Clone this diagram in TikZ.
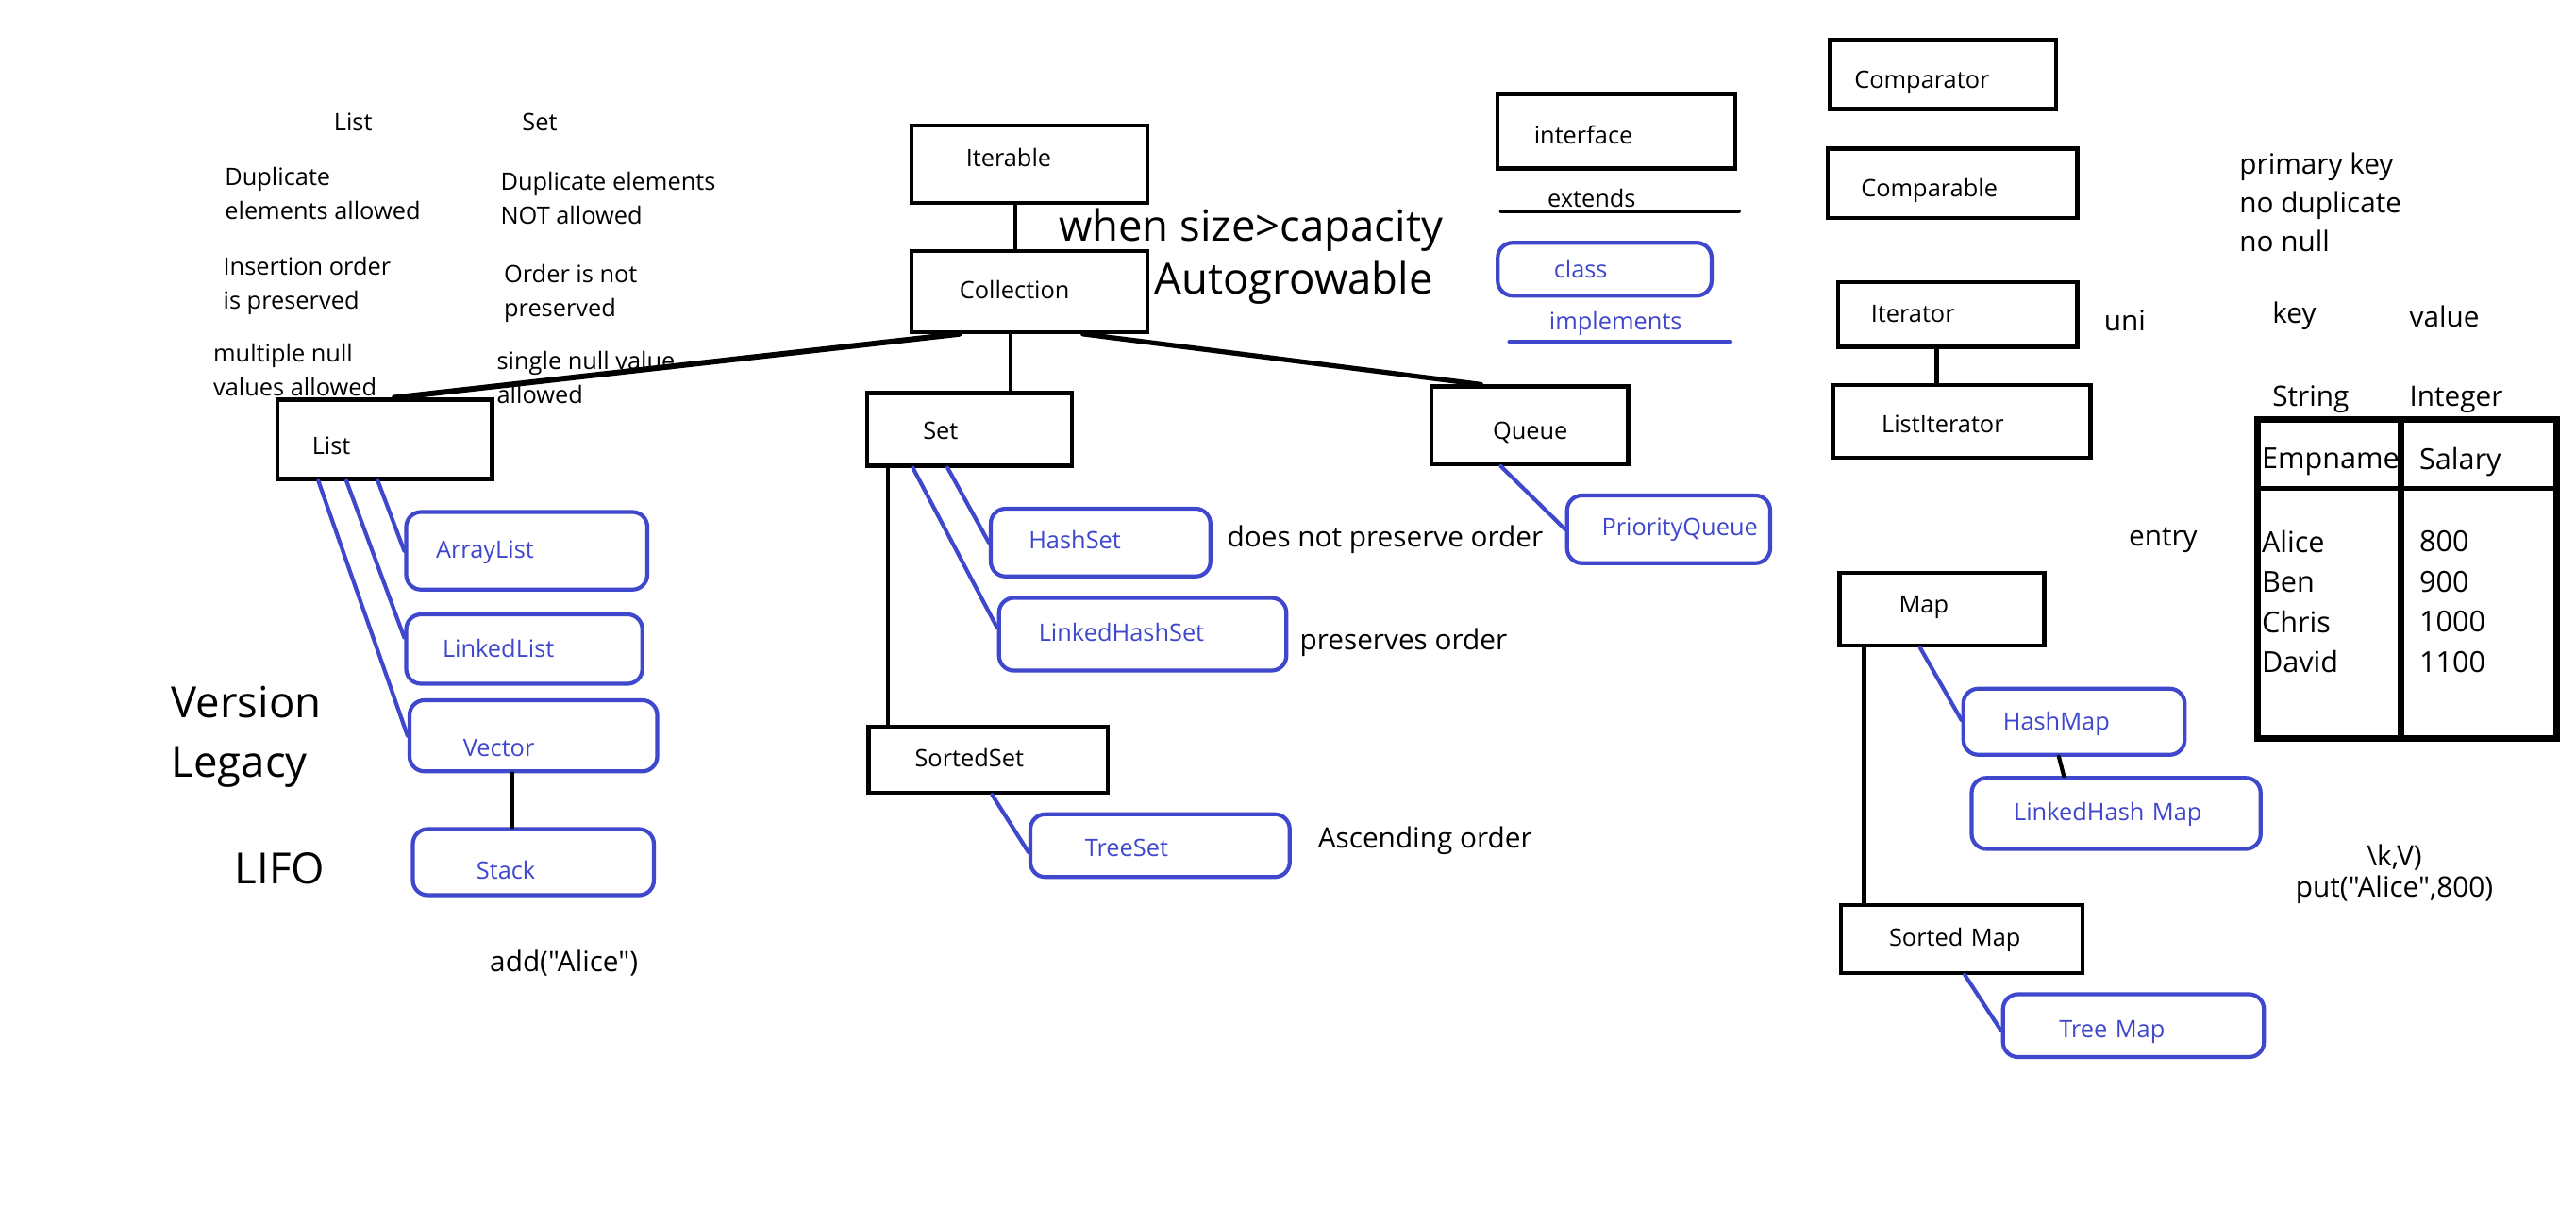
\documentclass[tikz,border=0pt]{standalone}
\usepackage{fontspec}
\setmainfont{Open Sans}
\newfontfamily\osans{Open Sans}
\definecolor{pblue}{RGB}{63,72,204}
\newcommand\fsz[2]{\osans\fontsize{#1}{#2}\selectfont}
% box macro: style, name, x1, y1, x2, y2, text x, text y, text
\newcommand\bx[9]{%
  \pgfmathsetmacro\bxw{#5-#3}%
  \pgfmathsetmacro\bxh{#6-#4}%
  \pgfmathsetmacro\bxo{#7-#3}%
  \pgfmathsetmacro\bxd{#8-(#4+#6)/2}%
  \pgfmathsetmacro\bxcx{(#3+#5)/2}%
  \pgfmathsetmacro\bxcy{(#4+#6)/2}%
  \node[#1, text width=\bxw pt, minimum height=\bxh pt] (#2) at (\bxcx,\bxcy)
    {\hspace*{\bxo pt}\raisebox{-\bxd pt}{#9}};}
\tikzset{
  ibox/.style={draw, line width=2.4pt, inner xsep=0pt, inner ysep=0pt, align=left,
    text height=11pt, text depth=3pt, font=\fsz{14.5}{17}},
  cbox/.style={ibox, draw=pblue, text=pblue, rounded corners=9pt},
  ext/.style={line width=2.4pt, line cap=round},
  impl/.style={draw=pblue, line width=2.4pt, line cap=round},
  s/.style={anchor=west, inner sep=0pt, font=\fsz{14.5}{20.5}, align=left},
  m/.style={anchor=west, inner sep=0pt, font=\fsz{17}{23.5}, align=left},
  big/.style={anchor=west, inner sep=0pt, font=\fsz{26}{36}, align=left},
  tb/.style={anchor=west, inner sep=0pt, font=\fsz{17.5}{24.2}, align=left},
}
\begin{document}
\begin{tikzpicture}[x=1pt, y=-1pt]
\useasboundingbox[fill=white] (0,0) rectangle (1560,731);

% ---- top-left notes
\node[s] (hl) at (202,74) {List};
\node[s] (hs) at (316,74) {Set};
\node[s] (n1) at (136,117) {Duplicate\\elements allowed};
\node[s] (n2) at (303,120) {Duplicate elements\\NOT allowed};
\node[s] (n3) at (135,173) {Insertion order\\is preserved};
\node[s] (n4) at (305,177.5) {Order is not\\preserved};
\node[s] (n5) at (129,224) {multiple null\\values allowed};
\node[s] (n6) at (300.7,228.5) {single null value\\allowed};

% ---- interface boxes
\bx{ibox}{iter}{552}{76}{695}{123}{585}{97}{Iterable}
\bx{ibox}{coll}{552}{152}{695}{201}{581}{177}{Collection}
\bx{ibox}{list}{168}{242}{298}{290}{189}{271}{List}
\bx{ibox}{set}{525}{238}{649}{282}{559}{262}{Set}
\bx{ibox}{queue}{867}{234}{986}{281}{904}{262}{Queue}
\bx{ibox}{sset}{526}{440}{671}{480}{554}{460}{SortedSet}
\bx{ibox}{iface}{907}{57}{1051}{102}{929}{83}{interface}
\bx{ibox}{cmptor}{1108}{24}{1245}{66}{1123}{49.5}{Comparator}
\bx{ibox}{cmpble}{1107}{90}{1258}{132}{1127}{115}{Comparable}
\bx{ibox}{itor}{1113}{171}{1258}{210}{1133}{191}{Iterator}
\bx{ibox}{litor}{1110}{233}{1266}{277}{1139.5}{258}{ListIterator}
\bx{ibox}{map}{1114}{347}{1238}{391}{1150}{367}{Map}
\bx{ibox}{smap}{1115}{548}{1261}{589}{1144}{569}{Sorted Map}

% ---- class boxes
\bx{cbox}{arr}{246}{310}{392}{357}{264}{334}{ArrayList}
\bx{cbox}{llist}{246}{372}{389}{414}{268}{394}{LinkedList}
\bx{cbox}{vec}{248}{424}{398}{467}{280.5}{454}{Vector}
\bx{cbox}{stack}{250}{502}{396}{542}{288.5}{528}{Stack}
\bx{cbox}{hset}{600}{308}{733}{349}{623}{328}{HashSet}
\bx{cbox}{lhset}{605}{362}{779}{406}{629}{384.5}{LinkedHashSet}
\bx{cbox}{tset}{624}{493}{781}{531}{657}{514.7}{TreeSet}
\bx{cbox}{pq}{949}{300}{1072}{341}{970}{320}{PriorityQueue}
\bx{cbox}{cls}{907}{147}{1036.5}{179}{941}{164}{class}
\bx{cbox}{hmap}{1189}{417}{1323}{457}{1213}{438}{HashMap}
\bx{cbox}{lhmap}{1194}{471}{1369}{514}{1219.5}{493}{LinkedHash Map}
\bx{cbox}{tmap}{1213}{602}{1371}{640}{1247}{624}{Tree Map}

% ---- extends connectors (black)
\draw[ext] ([xshift=64pt]iter.south west) -- ([xshift=64pt]coll.north west);
\draw[ext, line width=3.4pt] ([xshift=30pt]coll.south west) -- ([xshift=72pt]list.north west);
\draw[ext] ([xshift=61pt]coll.south west) -- ([xshift=88pt]set.north west);
\draw[ext, line width=3pt] ([xshift=105pt]coll.south west) -- ([xshift=31pt]queue.north west);
\draw[ext] ([xshift=14pt]set.south west) -- ([xshift=13pt]sset.north west);
\draw[ext] ([xshift=63.5pt]vec.south west) -- ([xshift=61.5pt]stack.north west);
\draw[ext] ([xshift=61pt]itor.south west) -- ([xshift=64pt]litor.north west);
\draw[ext] ([xshift=16pt]map.south west) -- ([xshift=15pt]smap.north west);
\draw[ext] ([xshift=59pt]hmap.south west) -- ([xshift=57pt]lhmap.north west);

% ---- implements connectors (blue)
\draw[impl] ([xshift=62pt]list.south west) -- (arr.west);
\draw[impl] ([xshift=43pt]list.south west) -- ([yshift=7pt]llist.west);
\draw[impl] ([xshift=26pt]list.south west) -- (vec.west);
\draw[impl] ([xshift=50pt]set.south west) -- (hset.west);
\draw[impl] ([xshift=29pt]set.south west) -- ([yshift=4pt]lhset.west);
\draw[impl] ([xshift=76pt]sset.south west) -- ([yshift=-4pt]tset.west);
\draw[impl] ([xshift=43pt]queue.south west) -- (pq.west);
\draw[impl] ([xshift=50pt]map.south west) -- ([yshift=1pt]hmap.west);
\draw[impl] ([xshift=76pt]smap.south west) -- ([yshift=-3pt]tmap.west);

% ---- legend lines
\coordinate (exta) at (909,128);
\coordinate (extb) at (1053,128);
\draw[ext] (exta) -- (extb);
\node[s] (extl) at (937,120) {extends};
\coordinate (impa) at (914,207);
\coordinate (impb) at (1048,207);
\draw[impl] (impa) -- (impb);
\node[s, text=pblue] (impll) at (938,196) {implements};

% ---- big annotations
\node[big] (wsc) at (641,139) {when size>capacity};
\node[big] (agw) at (699,171) {Autogrowable};
\node[big] (vl) at (103.6,446) {Version\\Legacy};
\node[big] (lifo) at (142,526) {LIFO};

% ---- medium annotations
\node[m] (add) at (296.5,583) {add("Alice")};
\node[m] (dnp) at (743,327) {does not preserve order};
\node[m] (po) at (787,389) {preserves order};
\node[m] (asc) at (798,509) {Ascending order};
\node[m] (uni) at (1274,194) {uni};
\node[m] (pk) at (1356,122.5) {primary key\\no duplicate\\no null};
\node[m] (key) at (1376,191.5) {key};
\node[m] (val) at (1459,191.5) {value};
\node[m] (str) at (1376,242) {String};
\node[m] (int) at (1459,242) {Integer};
\node[m] (entry) at (1289,327) {entry};
\node[m, anchor=center, align=center, font=\fsz{17}{19}] (kv) at (1450,529.5) {\textbackslash k,V)\\put("Alice",800)};

% ---- table
\draw[line width=4pt] (1367,254) rectangle (1548,447);
\draw[line width=2.8pt] (1367,295.6) -- (1548,295.6);
\draw[line width=4.5pt] (1454,254) -- (1454,447);
\node[tb] (th1) at (1369.5,279.5) {Empname};
\node[tb] (th2) at (1465,279.5) {Salary};
\node[tb] (tc1) at (1369.5,364.3) {Alice\\Ben\\Chris\\David};
\node[tb] (tc2) at (1465,364.3) {800\\900\\1000\\1100};
\end{tikzpicture}
\end{document}
